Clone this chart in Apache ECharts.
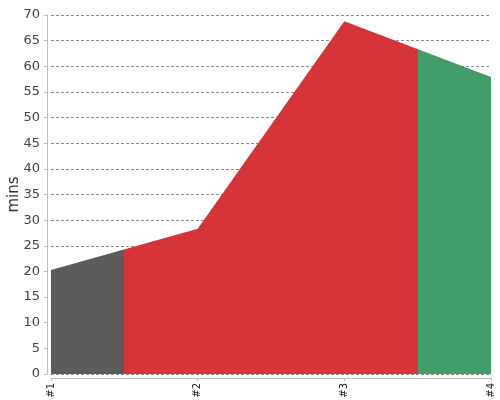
<!DOCTYPE html>
<html><head><meta charset="utf-8">
<script src="https://cdn.jsdelivr.net/npm/echarts@6/dist/echarts.min.js"></script>
<style>html,body{margin:0;padding:0;background:#fff}#c{width:500px;height:400px}</style>
</head><body><div id="c"></div>
<script>
const categories = ['#1', '#2', '#3', '#4'];
const values = [20.3, 28.3, 68.8, 57.9];
const yTicks = {min: 0, max: 70, interval: 5};
const axisName = 'mins';
const segColors = ['#5b5b5b', '#d63437', '#419d69'];

const chart = echarts.init(document.getElementById('c'));
chart.setOption({
  animation: false,
  backgroundColor: '#fff',
  textStyle: {fontFamily: 'DejaVu Sans'},
  grid: {left: 51, right: 9, top: 15, bottom: 26, outerBoundsMode: 'none', containLabel: false},
  xAxis: {
    type: 'value', min: 0, max: categories.length - 1, interval: 1, offset: 4,
    axisLine: {show: true, onZero: false, lineStyle: {color: '#bbb'}},
    axisTick: {show: true, length: 3, lineStyle: {color: '#bbb'}},
    axisLabel: {rotate: 90, fontSize: 10, color: '#222', margin: 5, fontFamily: 'DejaVu Sans',
      formatter: v => categories[v] || ''},
    splitLine: {show: false}
  },
  yAxis: {
    type: 'value', min: yTicks.min, max: yTicks.max, interval: yTicks.interval, offset: 4, z: 3,
    name: axisName, nameLocation: 'middle', nameGap: 25, nameRotate: 90, nameMoveOverlap: false,
    nameTextStyle: {fontSize: 15, color: '#333', fontFamily: 'DejaVu Sans'},
    axisLine: {show: true, onZero: false, lineStyle: {color: '#bbb'}},
    axisTick: {show: true, length: 3, lineStyle: {color: '#bbb'}},
    axisLabel: {fontSize: 13, color: '#444', margin: 7, fontFamily: 'DejaVu Sans'},
    splitLine: {show: true, lineStyle: {color: 'rgba(0,0,0,0.45)', type: [3, 2], width: 1}}
  },
  visualMap: {
    type: 'piecewise', show: false, dimension: 0, seriesIndex: 0,
    pieces: [
      {lt: 0.5, color: segColors[0]},
      {gte: 0.5, lt: 2.5, color: segColors[1]},
      {gte: 2.5, color: segColors[2]}
    ]
  },
  series: [{
    type: 'line', data: values.map((v, i) => [i, v]), symbol: 'none',
    lineStyle: {width: 0},
    areaStyle: {opacity: 1}
  }]
});
</script></body></html>
